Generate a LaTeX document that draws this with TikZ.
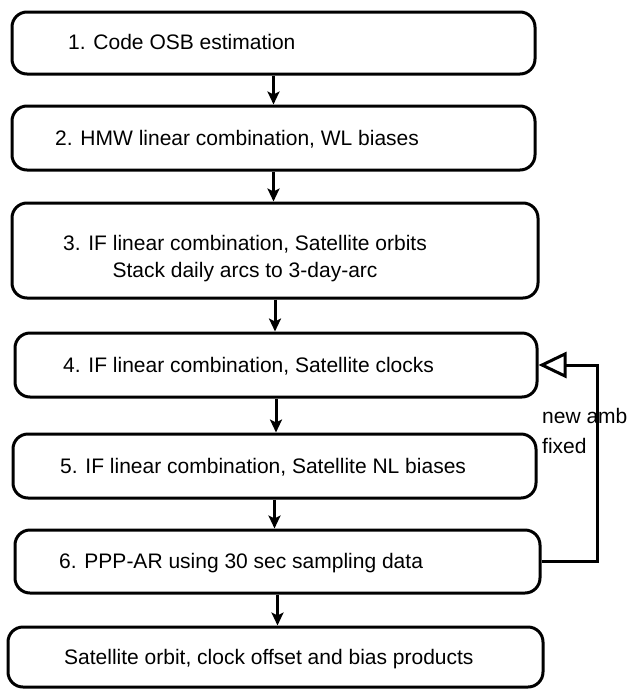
\documentclass[tikz,border=0pt]{standalone}
\usepackage{fontspec}
\setmainfont{Liberation Sans}
\usetikzlibrary{arrows.meta}
\begin{document}
\begin{tikzpicture}[x=1pt,y=-1pt,
  stepbox/.style={draw, line width=3pt, rounded corners=15pt, inner sep=0pt},
  txt/.style={font=\fontsize{21}{27}\selectfont, inner sep=0pt, anchor=base west},
  flow/.style={line width=3pt, -{Stealth[length=13pt,width=12pt,inset=3pt]}},
  loopback/.style={line width=3pt, -{Triangle[open,length=28pt,width=26pt]}}]
\useasboundingbox (0,0) rectangle (629,689);

% processing steps
\node[stepbox, minimum width=523pt, minimum height=62pt] (b1) at (273.5,43) {};
\node[stepbox, minimum width=523pt, minimum height=64pt] (b2) at (273.5,138) {};
\node[stepbox, minimum width=526pt, minimum height=95pt] (b3) at (275,250.5) {};
\node[stepbox, minimum width=522pt, minimum height=64pt] (b4) at (276,365) {};
\node[stepbox, minimum width=523pt, minimum height=64pt] (b5) at (274.5,466) {};
\node[stepbox, minimum width=525pt, minimum height=63pt] (b6) at (277.5,561.5) {};
\node[stepbox, minimum width=535pt, minimum height=60pt] (b7) at (275.5,657) {};

% step texts
\node[txt] (t1) at (68,49.5) {1. Code OSB estimation};
\node[txt] (t2) at (55,145.5) {2. HMW linear combination, WL biases};
\node[txt, anchor=base] (t3a) at (245,250.5) {3. IF linear combination, Satellite orbits};
\node[txt, anchor=base] (t3b) at (245,277.5) {Stack daily arcs to 3-day-arc};
\node[txt] (t4) at (63,372.5) {4. IF linear combination, Satellite clocks};
\node[txt] (t5) at (60,473.5) {5. IF linear combination, Satellite NL biases};
\node[txt] (t6) at (59,568.5) {6. PPP-AR using 30 sec sampling data};
\node[txt] (t7) at (64,664.5) {Satellite orbit, clock offset and bias products};

% downward flow
\draw[flow] (b1.south) -- (b1.south |- b2.north);
\draw[flow] (b2.south) -- (b2.south |- b3.north);
\draw[flow] (b3.south) -- (b3.south |- b4.north);
\draw[flow] (b4.south) -- (b4.south |- b5.north);
\draw[flow] (b5.south) -- (b5.south |- b6.north);
\draw[flow] (b6.south) -- (b6.south |- b7.north);

% iteration loop back to the clock step
\coordinate (fb) at (597,365);
\draw[loopback] (b6.east) -| (fb) -- (b4.east);
\node[txt] (l1) at (542,423) {new amb};
\node[txt] (l2) at (542,453) {fixed};
\end{tikzpicture}
\end{document}
